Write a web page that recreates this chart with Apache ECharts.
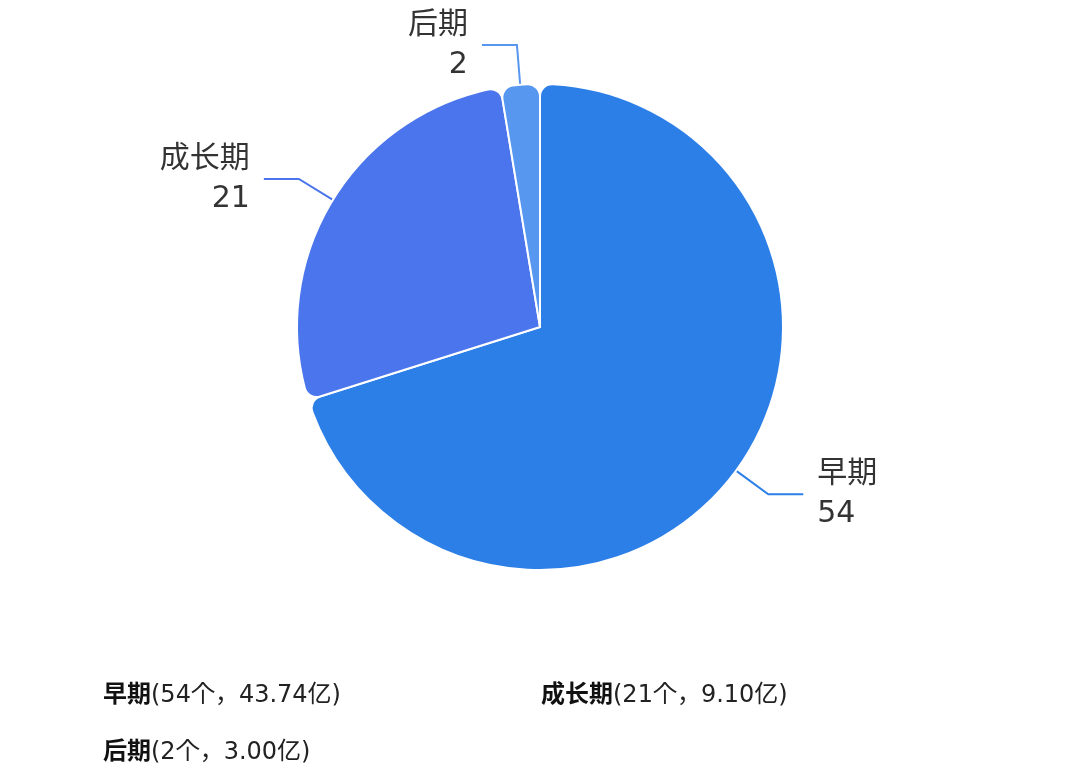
<!DOCTYPE html>
<html>
<head>
<meta charset="utf-8">
<script src="https://cdn.jsdelivr.net/npm/echarts@6/dist/echarts.min.js"></script>
<style>
html,body{margin:0;padding:0;background:#fff;}
#main{width:1080px;height:769px;}
</style>
</head>
<body>
<div id="main"></div>
<script>
var stageNames = ['早期', '成长期', '后期'];
var stageCounts = [54, 21, 2];
var stageAmounts = ['43.74', '9.10', '3.00'];
var stageColors = ['#2d7fe8', '#4a75ec', '#5797f0'];

var FONT = '"DejaVu Sans", "Noto Sans CJK SC", sans-serif';
var LEGEND_FONT = '"DejaVu Sans", "Noto Sans CJK KR", sans-serif';
var chart = echarts.init(document.getElementById('main'));

function pieData(){
	return stageNames.map(function(name, i){
		return {
			name: name,
			value: stageCounts[i],
			itemStyle: {color: stageColors[i]},
			labelLine: {lineStyle: {color: stageColors[i]}}
		};
	});
}

// one legend per item so they sit on a two column grid
var legendPos = [
	{left: 98, top: 684},
	{left: 536, top: 684},
	{left: 98, top: 741}
];
var legends = stageNames.map(function(name, i){
	return {
		left: legendPos[i].left,
		top: legendPos[i].top,
		data: [name],
		icon: 'none',
		itemWidth: 0,
		itemGap: 0,
		padding: 0,
		selectedMode: false,
		formatter: function(n){
			return '{b|' + n + '}{n|(' + stageCounts[i] + '个，' + stageAmounts[i] + '亿)}';
		},
		textStyle: {
			fontFamily: LEGEND_FONT,
			rich: {
				b: {fontSize: 24, fontWeight: 'bold', color: '#111', fontFamily: LEGEND_FONT},
				n: {fontSize: 24, color: '#222', fontFamily: LEGEND_FONT}
			}
		}
	};
});

chart.setOption({
	animation: false,
	textStyle: {fontFamily: FONT},
	legend: legends,
	series: [{
		type: 'pie',
		center: [540, 327],
		radius: [0, 243],
		startAngle: 90,
		clockwise: true,
		avoidLabelOverlap: false,
		itemStyle: {
			borderColor: '#fff',
			borderWidth: 2,
			borderRadius: 12
		},
		label: {
			show: true,
			formatter: '{b}\n{c}',
			fontSize: 30,
			lineHeight: 40,
			fontFamily: FONT,
			color: '#333',
			distanceToLabelLine: 14
		},
		labelLine: {
			show: true,
			length: 40,
			length2: 35,
			lineStyle: {width: 2}
		},
		data: pieData()
	}]
});
</script>
</body>
</html>
